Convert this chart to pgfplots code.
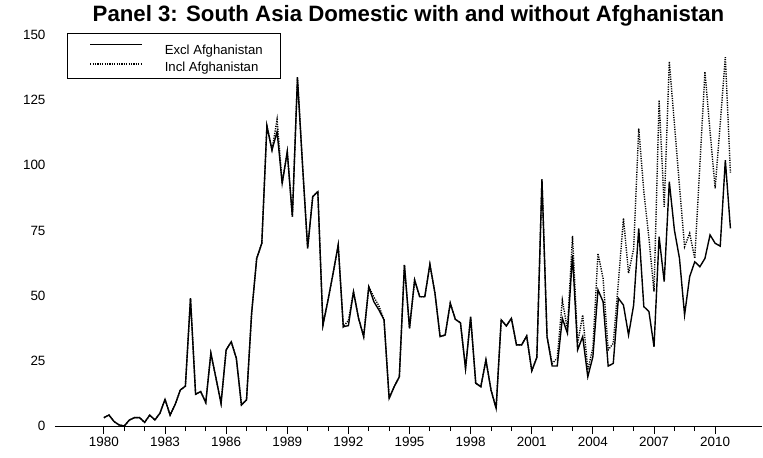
\documentclass[border=0pt]{standalone}
\usepackage{fontspec}
\setmainfont{Liberation Sans}
\usepackage{pgfplots}
\usepackage{pgfplotstable}
\pgfplotsset{compat=1.18}

% Quarterly series: domestic figures excluding / including Afghanistan
\pgfplotstableread{
t       excl   incl
1980.00 3.2    3.2
1980.25 4.2    4.2
1980.50 1.7    1.7
1980.75 0.4    0.4
1981.00 0.0    0.0
1981.25 2.3    2.3
1981.50 3.2    3.2
1981.75 3.2    3.2
1982.00 1.4    1.4
1982.25 4.2    4.2
1982.50 2.3    2.3
1982.75 4.9    4.9
1983.00 10.2   10.2
1983.25 4.2    4.2
1983.50 8.3    8.3
1983.75 13.8   13.8
1984.00 15.3   15.3
1984.25 49.0   49.0
1984.50 12.2   12.2
1984.75 13.2   13.2
1985.00 9.0    9.0
1985.25 27.9   27.9
1985.50 18.4   18.4
1985.75 8.7    8.7
1986.00 29.2   29.2
1986.25 32.3   32.3
1986.50 26.0   26.0
1986.75 8.1    8.1
1987.00 10.0   10.0
1987.25 43.2   43.2
1987.50 64.3   64.3
1987.75 70.1   70.1
1988.00 115.1  115.1
1988.25 105.9  105.9
1988.50 112.9  117.6
1988.75 93.1   93.1
1989.00 105.2  105.2
1989.25 80.3   80.3
1989.50 133.4  134.0
1989.75 100.0  100.0
1990.00 68.2   68.2
1990.25 88.0   88.0
1990.50 89.9   89.9
1990.75 38.7   38.7
1991.00 48.3   48.3
1991.25 58.6   58.6
1991.50 69.4   69.4
1991.75 38.1   38.1
1992.00 38.5   40.5
1992.25 51.5   51.5
1992.50 41.3   41.3
1992.75 34.3   34.3
1993.00 53.4   53.4
1993.25 47.7   49.5
1993.50 44.5   46.0
1993.75 40.7   40.7
1994.00 10.6   10.6
1994.25 15.1   15.1
1994.50 18.9   18.9
1994.75 61.8   61.8
1995.00 37.5   37.5
1995.25 56.0   56.0
1995.50 49.6   49.6
1995.75 49.6   49.6
1996.00 62.0   62.0
1996.25 50.9   50.9
1996.50 34.3   34.3
1996.75 34.9   34.9
1997.00 47.1   47.1
1997.25 40.9   40.9
1997.50 39.6   39.6
1997.75 22.1   22.1
1998.00 41.9   41.9
1998.25 16.4   16.4
1998.50 15.1   15.1
1998.75 25.3   25.3
1999.00 13.8   13.8
1999.25 6.8    6.8
1999.50 40.7   40.7
1999.75 38.4   38.4
2000.00 41.3   41.3
2000.25 31.1   31.1
2000.50 31.1   31.1
2000.75 34.5   34.5
2001.00 21.2   21.2
2001.25 26.3   26.3
2001.50 94.6   94.6
2001.75 34.3   34.3
2002.00 23.0   24.0
2002.25 23.0   26.0
2002.50 41.3   48.3
2002.75 35.6   37.0
2003.00 65.6   72.9
2003.25 29.2   31.7
2003.50 34.3   42.6
2003.75 18.9   21.5
2004.00 26.6   30.0
2004.25 52.2   66.2
2004.50 47.7   56.6
2004.75 23.0   29.2
2005.00 24.0   31.7
2005.25 49.0   55.0
2005.50 46.4   79.7
2005.75 34.9   58.6
2006.00 46.4   68.0
2006.25 75.8   114.2
2006.50 45.8   90.0
2006.75 43.9   72.0
2007.00 30.4   51.5
2007.25 72.6   125.0
2007.50 55.4   84.1
2007.75 93.7   139.8
2008.00 75.2   116.0
2008.25 64.3   92.0
2008.50 42.6   68.8
2008.75 57.3   73.9
2009.00 63.0   64.3
2009.25 61.1   100.0
2009.50 64.3   135.9
2009.75 73.3   113.0
2010.00 70.1   91.2
2010.25 69.0   116.0
2010.50 102.0  141.5
2010.75 75.8   97.2
}\southasia

\begin{document}
\begin{tikzpicture}
\path[use as bounding box] (-55bp,-32bp) rectangle (708bp,426bp);
\begin{axis}[
  at={(0,0)}, anchor=south west,
  scale only axis, width=707bp, height=391bp,
  xmin=1977.6, xmax=2012.3, ymin=0, ymax=150,
  axis x line*=bottom, axis y line*=left,
  y axis line style={draw=none},
  axis line style={line width=0.8bp},
  x axis line style={-},
  xtick={1980,1983,...,2010},
  minor xtick={1980,...,2010},
  xtick align=outside,
  major tick length=8bp, minor tick length=5bp,
  every tick/.style={black, line width=0.8bp},
  ytick={0,25,...,150},
  ytick style={draw=none},
  tick label style={font=\fontsize{13.5}{16}\selectfont},
  /pgf/number format/assume math mode=true,
  /pgf/number format/1000 sep={},
  yticklabel style={xshift=-6bp},
  title={Panel 3: South Asia Domestic with and without Afghanistan},
  title style={at={(0.5,1)}, anchor=base, yshift=8bp,
    font=\bfseries\fontsize{22.3}{26}\selectfont},
  legend style={
    at={(0.017,1.005)}, anchor=north west,
    draw=black, line width=0.8bp, fill=white,
    font=\fontsize{13.2}{15}\selectfont,
    inner xsep=22bp, inner ysep=4bp, row sep=2bp,
    nodes={inner xsep=0bp, inner ysep=2bp},
  },
  legend cell align=left,
  legend image code/.code={
    \draw[#1] (0bp,0.3em) -- (52bp,0.3em);
  },
]
\addplot[black, line width=1.4bp] table[x=t, y=excl] {\southasia};
\addlegendentry{\hspace*{22bp}\rule{0pt}{14.6bp}Excl Afghanistan\hspace*{-4bp}}
\addplot[black, line width=1.4bp, dash pattern=on 1.2bp off 1.2bp] table[x=t, y=incl] {\southasia};
\addlegendentry{\hspace*{22bp}Incl Afghanistan\hspace*{-4bp}}
\end{axis}
\end{tikzpicture}
\end{document}
